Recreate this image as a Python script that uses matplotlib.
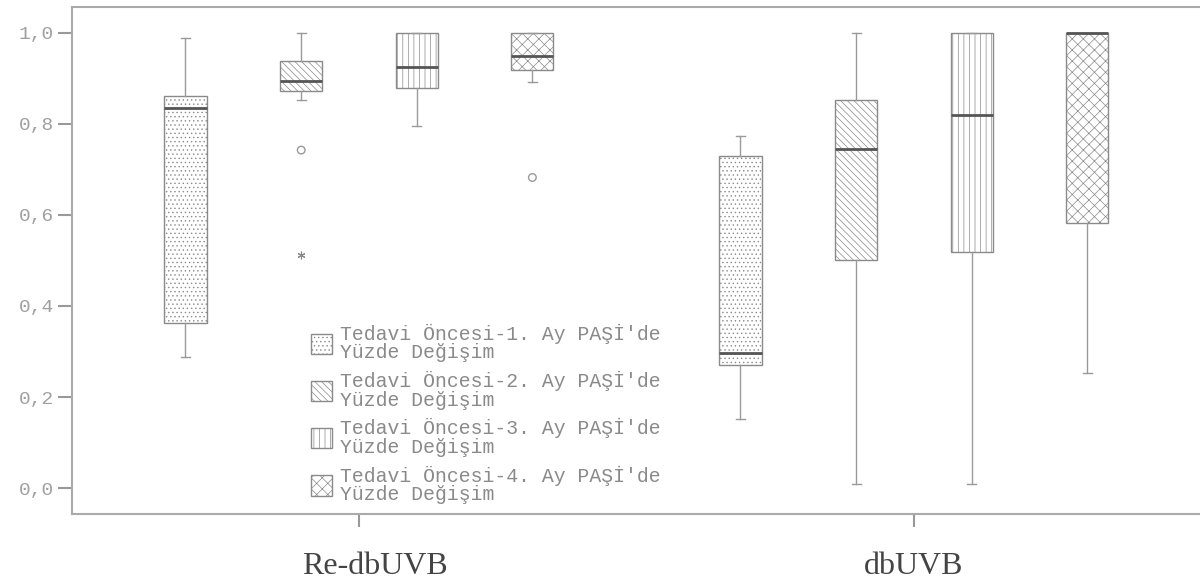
import matplotlib
matplotlib.use('Agg')
import matplotlib.pyplot as plt
from matplotlib.patches import Patch
import matplotlib.transforms as mtransforms

groups = ['Re-dbUVB', 'dbUVB']
series = ["Tedavi Öncesi-1. Ay PAŞİ'de\nYüzde Değişim",
          "Tedavi Öncesi-2. Ay PAŞİ'de\nYüzde Değişim",
          "Tedavi Öncesi-3. Ay PAŞİ'de\nYüzde Değişim",
          "Tedavi Öncesi-4. Ay PAŞİ'de\nYüzde Değişim"]

# per series: [Re-dbUVB, dbUVB]
whislo = [[0.288, 0.152], [0.852, 0.009], [0.796, 0.009], [0.892, 0.254]]
q1 = [[0.363, 0.271], [0.872, 0.500], [0.878, 0.518], [0.918, 0.582]]
med = [[0.834, 0.296], [0.894, 0.745], [0.925, 0.820], [0.949, 1.000]]
q3 = [[0.861, 0.730], [0.937, 0.851], [1.000, 1.000], [1.000, 1.000]]
whishi = [[0.989, 0.773], [1.000, 1.000], [1.000, 1.000], [1.000, 1.000]]
outliers = [[[], []], [[0.742], []], [[], []], [[0.682], []]]
extremes = [[[], []], [[0.512], []], [[], []], [[], []]]

yticks = [0.0, 0.2, 0.4, 0.6, 0.8, 1.0]
yticklabels = ['0,0', '0,2', '0,4', '0,6', '0,8', '1,0']

hatches = ['....', '\\\\\\\\\\', '|||', 'xxx']
offsets = [-0.3125, -0.104, 0.104, 0.3125]

plt.rcParams['hatch.linewidth'] = 0.5
mono = 'Liberation Mono'
serif = 'Liberation Serif'
line_c = '#9a9a9a'
edge_c = '#8a8a8a'
hatch_c = '#aaaaaa'

fig = plt.figure(figsize=(12, 5.79), dpi=100)
W = 1138
ax = fig.add_axes([72 / 1200, 65 / 579, W / 1200, 507 / 579])


def set_hc(p):
    if hasattr(p, 'set_hatchcolor'):
        p.set_hatchcolor(hatch_c)


for s in range(4):
    stats = []
    pos = []
    for g in range(2):
        stats.append(dict(med=med[s][g], q1=q1[s][g], q3=q3[s][g],
                          whislo=whislo[s][g], whishi=whishi[s][g], fliers=[]))
        pos.append(g + offsets[s])
    bp = ax.bxp(stats, positions=pos, widths=0.076, capwidths=0.016,
                patch_artist=True, showfliers=False, manage_ticks=False,
                boxprops=dict(facecolor='white', edgecolor=edge_c, linewidth=1.0, hatch=hatches[s]),
                whiskerprops=dict(color=line_c, linewidth=1.0),
                capprops=dict(color=line_c, linewidth=1.0),
                medianprops=dict(color='#555555', linewidth=2.0))
    for b in bp['boxes']:
        set_hc(b)
    for g in range(2):
        if outliers[s][g]:
            ax.scatter([g + offsets[s]] * len(outliers[s][g]), outliers[s][g], s=30,
                       facecolors='none', edgecolors=line_c, linewidths=1.0, zorder=3)
        if extremes[s][g]:
            ax.scatter([g + offsets[s]] * len(extremes[s][g]), extremes[s][g], s=25,
                       marker=(6, 2, 0), color='#888888', linewidths=0.8, zorder=3)

ax.set_xlim(-0.517, -0.517 + W / 555)
ax.set_ylim(-0.0564, 1.056)
ax.set_xticks([0, 1])
ax.set_xticklabels(groups, fontfamily=serif, fontsize=23, color='#444444')
ax.set_yticks(yticks)
ax.set_yticklabels(yticklabels, fontfamily=mono, fontsize=14, color='#a0a0a0')
ax.tick_params(axis='y', length=10, width=1.5, color='#999999', pad=3)
ax.tick_params(axis='x', length=9, width=1.5, color='#999999', pad=18)
off = mtransforms.ScaledTranslation(16 / 100, 0, fig.dpi_scale_trans)
lbl = ax.get_xticklabels()[0]
lbl.set_transform(lbl.get_transform() + off)

for sp in ['left', 'bottom', 'top']:
    ax.spines[sp].set_color('#aaaaaa')
    ax.spines[sp].set_linewidth(1.5)
ax.spines['right'].set_visible(False)

handles = [Patch(facecolor='white', edgecolor=edge_c, hatch=h, linewidth=1.0) for h in hatches]
for h in handles:
    set_hc(h)
leg = ax.legend(handles, series, loc='upper left', bbox_to_anchor=(311 / 1200, 1 - 324 / 579),
                bbox_transform=fig.transFigure, frameon=False, borderpad=0, borderaxespad=0,
                prop=dict(family=mono, size=14.2), handlelength=1.05, handleheight=1.2,
                handletextpad=0.4, labelspacing=0.45)
for t in leg.get_texts():
    t.set_color('#8a8a8a')
    t.set_linespacing(0.95)

fig.savefig('out.png', dpi=100)
